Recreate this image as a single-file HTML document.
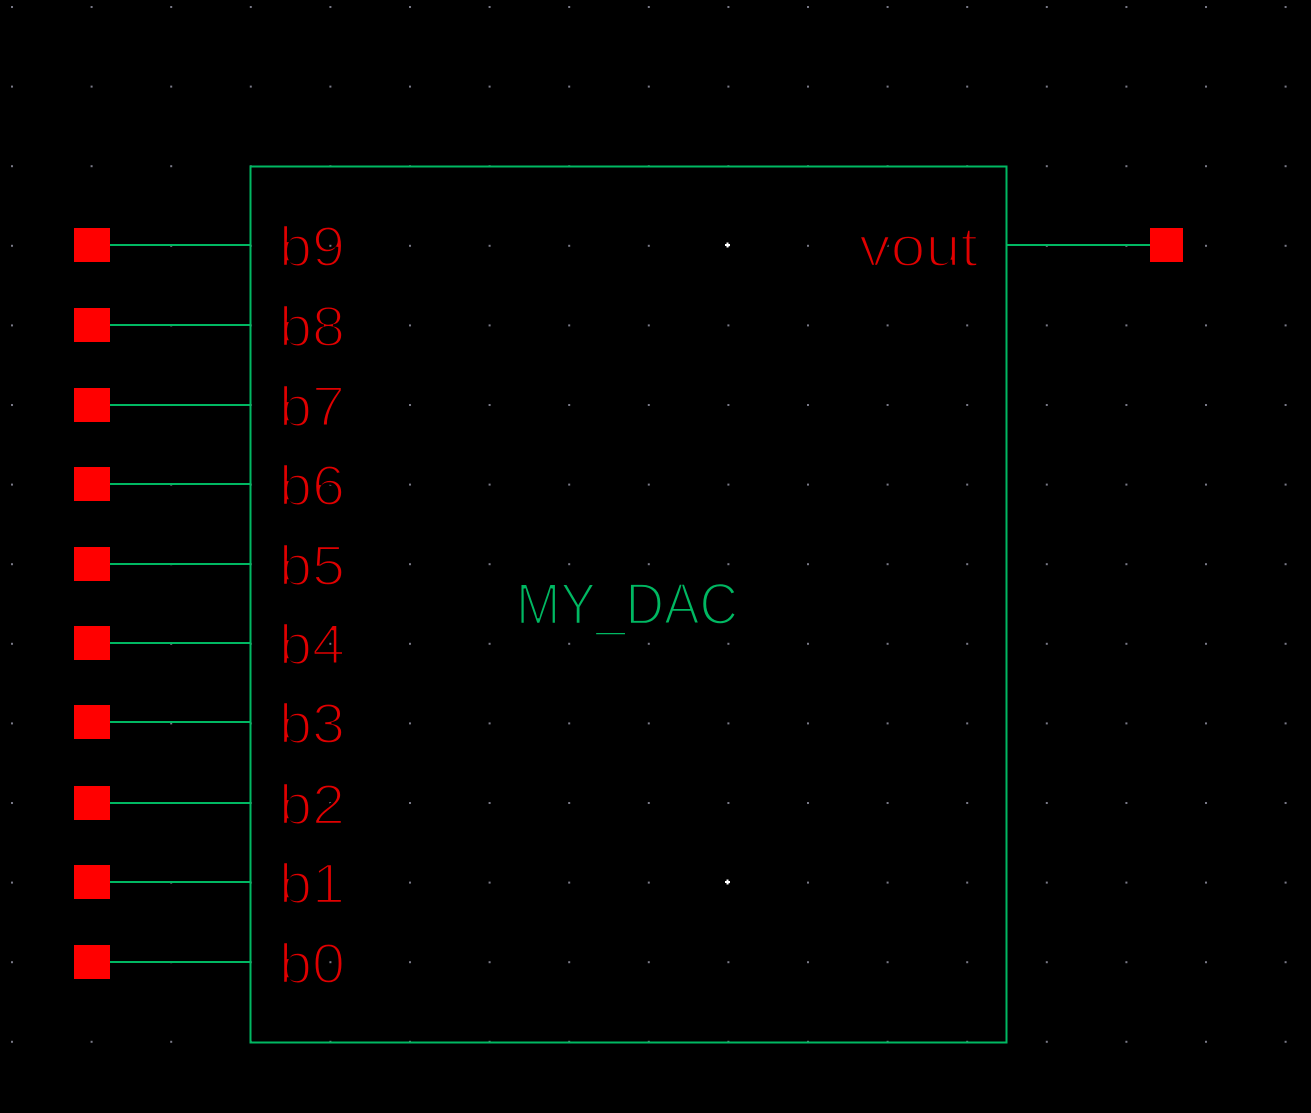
<!DOCTYPE html>
<html><head><meta charset="utf-8"><style>html,body{margin:0;padding:0;background:#000;}svg{display:block}</style></head>
<body>
<svg width="1311" height="1113" viewBox="0 0 1311 1113" xmlns="http://www.w3.org/2000/svg">
<defs>
<pattern id="g" x="11" y="6" width="79.6" height="79.6" patternUnits="userSpaceOnUse">
<rect x="0" y="0" width="2" height="2" fill="#7a7a88"/>
</pattern>
</defs>
<rect width="1311" height="1113" fill="#000"/>
<rect width="1311" height="1113" fill="url(#g)"/>
<rect x="250.5" y="166.5" width="756" height="876" fill="none" stroke="#00b862" stroke-width="2"/>
<g stroke="#00b862" stroke-width="2">
<line x1="110" y1="245" x2="250" y2="245"/>
<line x1="110" y1="325" x2="250" y2="325"/>
<line x1="110" y1="405" x2="250" y2="405"/>
<line x1="110" y1="484" x2="250" y2="484"/>
<line x1="110" y1="564" x2="250" y2="564"/>
<line x1="110" y1="643" x2="250" y2="643"/>
<line x1="110" y1="722" x2="250" y2="722"/>
<line x1="110" y1="803" x2="250" y2="803"/>
<line x1="110" y1="882" x2="250" y2="882"/>
<line x1="110" y1="962" x2="250" y2="962"/>
<line x1="1006" y1="245" x2="1150" y2="245"/>
</g>
<g fill="#ff0000">
<rect x="74" y="228" width="36" height="34"/>
<rect x="74" y="308" width="36" height="34"/>
<rect x="74" y="388" width="36" height="34"/>
<rect x="74" y="467" width="36" height="34"/>
<rect x="74" y="547" width="36" height="34"/>
<rect x="74" y="626" width="36" height="34"/>
<rect x="74" y="705" width="36" height="34"/>
<rect x="74" y="786" width="36" height="34"/>
<rect x="74" y="865" width="36" height="34"/>
<rect x="74" y="945" width="36" height="34"/>
<rect x="1150" y="228" width="33" height="34"/>
</g>
<g font-family="Liberation Sans, sans-serif" font-size="57" fill="#e00000" stroke="#000" stroke-width="2.4">
<text x="279" y="266" textLength="66" lengthAdjust="spacingAndGlyphs">b9</text>
<text x="279" y="346" textLength="66" lengthAdjust="spacingAndGlyphs">b8</text>
<text x="279" y="426" textLength="66" lengthAdjust="spacingAndGlyphs">b7</text>
<text x="279" y="505" textLength="66" lengthAdjust="spacingAndGlyphs">b6</text>
<text x="279" y="585" textLength="66" lengthAdjust="spacingAndGlyphs">b5</text>
<text x="279" y="664" textLength="66" lengthAdjust="spacingAndGlyphs">b4</text>
<text x="279" y="743" textLength="66" lengthAdjust="spacingAndGlyphs">b3</text>
<text x="279" y="824" textLength="66" lengthAdjust="spacingAndGlyphs">b2</text>
<text x="279" y="903" textLength="66" lengthAdjust="spacingAndGlyphs">b1</text>
<text x="279" y="983" textLength="66" lengthAdjust="spacingAndGlyphs">b0</text>
<text x="859" y="266" textLength="119" lengthAdjust="spacingAndGlyphs">vout</text>
</g>
<text x="516" y="624" font-family="Liberation Sans, sans-serif" font-size="58" fill="#00b862" stroke="#000" stroke-width="2.4" textLength="222" lengthAdjust="spacingAndGlyphs">MY_DAC</text>
<g fill="#fff">
<rect x="725" y="244" width="5" height="2"/><rect x="726.5" y="242.5" width="2" height="5"/>
<rect x="725" y="881" width="5" height="2"/><rect x="726.5" y="879.5" width="2" height="5"/>
</g>
</svg>
</body></html>
